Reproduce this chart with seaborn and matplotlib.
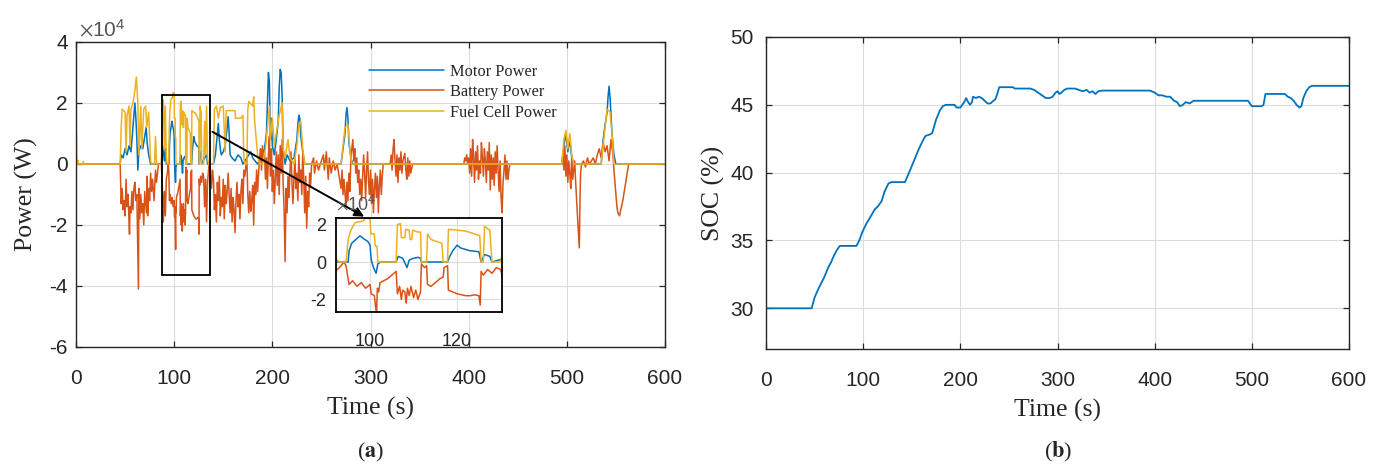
import numpy as np
import pandas as pd
import matplotlib
matplotlib.use("Agg")
import matplotlib.pyplot as plt
import seaborn as sns
from matplotlib.patches import Rectangle
from matplotlib.ticker import FuncFormatter

# ---------------- data (time s, power in units of 1e4 W) ----------------
series_names = ["Motor Power", "Battery Power", "Fuel Cell Power"]
series_colors = ["#0072BD", "#D95319", "#EDB120"]

motor_pts = [
    (0, 0), (45, 0), (46, 0.3), (48, 0.2), (50, 0.5), (52, 0.3), (54, 0.6), (56, 0.4), (58, 1.2),
    (60, 2.0), (61, 1.5), (62, 0.8), (63, -0.2), (64, 0.4), (66, 0.6), (68, 0.5), (70, 0.9),
    (71.5, 1.2), (72.5, 0.7), (74, 0.3), (76, 0), (87, 0), (88, 0.6), (89, 0.4), (90, 0.1),
    (91, 0.5), (92, 0), (95, 0), (95.2, 0.6), (95.8, 1.0), (96.5, 1.15), (97.7, 1.4), (98.5, 1.25),
    (99.5, 1.1), (100, 0.9), (100.3, 0.1), (100.8, -0.3), (101.4, -0.6), (101.8, -0.1), (102.5, 0),
    (106, 0), (106.5, 0.3), (107.5, 0.2), (108.5, -0.3), (109, 0.1), (110, 0.2), (111, 0.25),
    (111.6, 0.2), (111.8, 0), (117.8, 0), (118.3, 0.3), (119, 0.6), (120, 0.9), (120.8, 0.75),
    (121.5, 0.7), (123, 0.6), (125, 0.55), (125.5, 0), (126.3, 0.4), (127.5, 0.3), (128, 0),
    (131, 0.2), (133, 0.3), (134, 0), (140, 0), (142, 0.3), (144, 1.0), (145, 1.33), (146, 0.8),
    (147, 0.5), (148, 0.3), (150, 0.4), (152, 0.6), (154, 1.2), (155, 1.55), (156, 1.0), (157, 0.3),
    (159, 0.2), (162, 0.1), (165, 0.3), (168, 0.2), (170, 0), (176, 0.3), (178, 0.4), (180, 0.2),
    (185, 0), (190, 0.3), (192, 0.5), (194, 1.0), (195, 2.0), (196, 3.0), (197, 2.7), (198, 0.8),
    (199, 1.5), (200, 0.6), (202, 0.3), (204, 0.8), (206, 1.4), (207, 2.5), (208, 3.1), (209, 3.0),
    (210, 2.2), (211, 0.5), (213, 0), (215, 0.3), (218, 0.1), (222, 0.2), (225, 0.8), (226, 1.3),
    (227, 1.6), (228, 1.5), (229, 0.9), (231, 0.4), (233, 0), (270, 0), (272, 0.5), (274, 1.0),
    (275, 1.6), (276, 1.85), (277, 1.5), (278, 0.7), (280, 0.2), (282, 0), (495, 0), (497, 0.6),
    (499, 1.0), (501, 0.4), (503, 0.8), (505, 0.2), (507, 0), (535, 0), (537, 0.8), (539, 1.3),
    (541, 1.7), (542, 2.2), (543, 2.55), (544, 2.2), (545, 1.6), (546, 1.0), (548, 0.3), (550, 0),
    (600, 0),
]

battery_pts = [
    (0, -2.0), (0.3, 1.0), (0.6, 0), (45, 0), (46, -1.3), (47, -0.8), (48, -1.5), (49, -1.2),
    (50, -1.7), (51, -0.5), (52, -1.4), (53, -1.0), (54.5, -2.3), (55, -1.4), (56, -1.6), (57, -0.9),
    (58, -1.5), (59, -0.8), (60, -0.6), (61, -1.2), (62, -1.0), (63.6, -4.1), (64, -0.8), (65, -1.8),
    (66, -1.0), (67, -1.6), (68, -1.3), (69, -2.0), (70, -0.9), (71.8, -1.6), (72.5, -0.4),
    (73, -1.7), (74, -0.8), (75, -1.2), (76, -0.3), (77, -0.9), (78, -0.5), (79.5, -1.2), (81, -0.2),
    (82, -0.6), (84, 0), (87, 0), (88, -0.8), (89, -1.9), (90, -0.9), (91, -1.7), (92, -0.5),
    (93, -0.3), (94, 0), (94.5, -0.2), (95.2, -1.2), (96, -1.0), (97, -1.3), (98, -1.1), (99, -1.4),
    (100, -1.2), (100.3, -1.7), (101, -1.8), (101.5, -2.8), (101.7, -1.4), (102, -1.6), (102.3, -1.1),
    (104, -0.9), (105, -0.7), (106, -0.5), (106.3, -1.7), (106.8, -1.3), (107.2, -2.0), (107.5, -1.5),
    (108, -1.6), (108.3, -2.2), (108.6, -1.4), (109, -1.8), (109.4, -1.3), (110, -1.9), (110.5, -1.5),
    (111, -2.0), (111.6, -1.6), (111.8, -0.1), (112.5, -0.3), (113, -0.2), (113.2, -1.2), (114, -1.3),
    (115, -1.1), (116, -0.9), (116.8, -0.8), (117, -0.3), (117.8, -0.2), (118, -1.5), (119, -1.6),
    (120, -1.7), (121, -1.75), (122, -1.8), (123, -1.8), (124, -1.75), (125, -1.8), (125.3, -2.3),
    (125.5, -0.5), (126, -0.7), (127, -0.4), (128, -0.6), (129, -0.3), (130, -0.4), (131, -1.4),
    (132, -0.5), (133, -1.9), (134, -0.6), (135, -0.2), (136, 0.1), (137, -0.3), (138, -0.8),
    (139, -0.2), (140, -0.5), (141, -1.5), (142, -1.0), (143, -1.9), (144, -0.6), (145, -1.2),
    (146, -0.4), (147, -1.7), (148, -1.1), (149, -1.4), (150, -0.5), (151, -1.8), (152, -0.7),
    (153, -1.3), (154, -0.9), (155, -0.3), (156, -1.0), (157, -1.6), (158, -0.8), (159, -1.9),
    (160, -1.1), (161, -1.5), (162, -2.25), (163, -1.2), (164, -0.6), (165, -1.4), (166, -1.0),
    (167, -1.8), (168, -0.9), (169, -0.5), (170, -1.3), (171, -0.2), (172, -0.4), (173, -0.1),
    (174, 0.2), (175, -1.0), (176, -1.6), (177, -0.9), (178, -1.55), (179, -1.2), (180, -0.7),
    (181, -2.0), (182, -0.6), (183, -1.0), (184, -0.2), (185, -0.9), (186, -0.3), (187, 0.2),
    (188, 0.5), (189, -0.2), (190, 0.6), (191, 0.1), (192, 0.4), (193, -0.5), (194, 0.2), (195, -0.8),
    (196, 0.3), (197, 0.9), (198, -0.4), (199, 0.5), (200, -0.9), (201, -0.2), (202, -1.3),
    (203, -0.5), (204, 0.4), (205, -0.7), (206, 0.3), (207, -1.0), (208, 0.6), (209, -0.3), (210, 0.8),
    (211, -0.6), (212, -1.5), (213, -3.2), (214, -0.8), (215, -1.6), (216, -0.4), (217, -1.1),
    (218, -0.2), (219, 0.4), (220, -0.6), (221, -1.3), (222, -0.5), (223, 0.2), (224, -0.8),
    (225, -0.3), (226, -1.2), (227, 0.3), (228, -0.6), (229, -0.2), (230, -1.0), (231, 0.4),
    (232, -0.5), (233, -1.6), (234, -0.4), (235, -2.1), (236, -0.9), (237, -1.4), (238, -0.3),
    (239, -0.7), (240, 0), (242, 0.2), (243, -0.3), (245, 0.1), (247, -0.2), (249, 0), (252, 0.3),
    (253, -0.2), (255, 0.4), (256, -0.1), (257, -0.5), (258, 0.2), (260, -0.3), (262, 0.1),
    (264, -0.2), (266, 0), (268, -0.4), (270, -0.8), (271, -0.2), (272, -1.0), (273, -0.5),
    (275, -1.4), (276, -0.6), (277, -1.2), (278, -0.3), (279, -0.9), (280, 0.2), (281, 0.5),
    (282, 0.8), (283, 0.1), (284, 0.5), (285, -0.3), (286, 0.2), (287, -0.6), (288, -0.2),
    (289, -1.0), (290, -0.5), (291, -1.2), (292, -0.4), (293, 0.3), (294, -0.3), (295, -1.1),
    (296, -0.2), (297, 0.4), (298, -0.6), (299, -1.0), (300, -0.2), (301, -1.3), (302, -0.5),
    (303, -1.6), (304, -0.8), (305, -0.3), (306, -1.1), (307, -0.4), (308, -1.6), (309, -0.7),
    (310, -0.2), (311, -1.0), (312, -0.4), (313, 0), (320, 0), (321, 0.3), (322, -0.2), (323, 0.5),
    (324, 0.8), (325, 0.1), (326, -0.4), (327, 0.3), (328, -0.6), (329, 0.2), (330, -0.2), (331, 0.4),
    (332, -0.3), (333, 0.1), (335, 0.35), (336, -0.2), (337, -0.5), (338, 0.2), (339, -0.4),
    (340, 0.1), (341, -0.3), (343, 0), (395, 0), (396, 0.2), (397, 0.1), (398, 0.3), (399, 0),
    (400, 0.2), (401, -0.3), (402, 0.5), (403, -0.4), (404, 0.8), (405, 0.2), (406, -0.6), (407, 0.4),
    (408, -0.2), (409, 0.6), (410, -0.5), (411, 0.1), (412, -0.3), (413, 0.7), (414, 0.2),
    (415, -0.4), (416, 0.5), (417, 0.1), (418, -0.6), (419, 0.4), (420, -0.2), (421, 0.7),
    (422, -0.85), (423, 0.3), (424, -0.5), (425, 0.2), (426, -0.7), (427, 0.4), (428, -0.3),
    (429, 0.6), (430, -0.2), (431, -0.9), (432, 0.1), (433, -1.1), (434, -1.6), (435, -0.6),
    (436, -0.2), (437, 0.3), (438, -0.5), (439, 0.1), (440, -0.5), (441, -0.2), (442, 0), (495, 0),
    (496, 0.4), (497, -0.2), (498, 0.6), (499, -0.4), (500, 0.3), (501, -0.6), (502, 0.1),
    (503, -0.3), (504, -0.8), (505, 0.2), (506, -0.5), (507, -0.2), (508, 0.1), (509, -0.6),
    (510, -1.2), (511, -1.8), (512.7, -2.75), (513.5, -1.0), (514, -0.3), (515, 0), (517, 0.1),
    (519, -0.1), (521, 0.2), (523, 0), (525, 0.1), (527, 0.2), (529, 0), (531, 0.3), (533, 0.5),
    (535, 0.2), (537, 0.7), (539, 0.4), (541, 0.6), (543, 0.1), (545, 0.8), (547, 0.3), (548, -0.2),
    (549, -0.6), (550, -1.0), (551, -1.4), (552, -1.6), (553.6, -1.7), (555, -1.5), (557, -1.2),
    (559, -0.8), (561, -0.4), (563, 0), (600, 0),
]

fuelcell_pts = [
    (0, 0), (1.5, 0), (2, 0.12), (2.5, 0), (7, 0), (7.5, 0.08), (8, 0), (45, 0), (46, 1.2),
    (47, 1.8), (50, 1.7), (51, 0.4), (52, 1.6), (54, 1.9), (55, 0.6), (56, 1.8), (58, 2.0),
    (60, 2.4), (61.5, 2.85), (63, 2.0), (64, 0.3), (66, 1.9), (67, 0.5), (69, 1.8), (71, 1.9),
    (72, 1.2), (74, 1.7), (76, 0.1), (77, 0), (80, 0), (81, 0.9), (82, 0), (87, 0), (88, 1.6),
    (89, 2.1), (90, 0.5), (91, 1.9), (92, 0.2), (93, 0), (94.5, 0), (95, 1.2), (95.6, 1.7),
    (96.6, 2.1), (98.5, 2.2), (99, 2.35), (100, 2.3), (100.2, 1.5), (101, 1.5), (101.2, 0.85),
    (101.6, 0.85), (101.8, 0), (106, 0), (106.3, 2.0), (107, 2.05), (107.2, 1.3), (108, 1.3),
    (108.2, 1.75), (109, 1.7), (109.2, 1.2), (109.6, 1.2), (109.8, 1.7), (111, 1.6), (111.6, 1.6),
    (111.8, 0), (113, 0), (113.2, 1.5), (114, 1.2), (116.5, 1.0), (116.8, 0), (117.8, 0),
    (118, 1.75), (120, 1.7), (122, 1.65), (124, 1.5), (125.2, 1.4), (125.5, 0), (126, 0),
    (126.3, 1.9), (127.5, 1.7), (128, 0), (130, 0), (131, 1.4), (132, 0.3), (133, 1.9), (134, 0.2),
    (135, 0), (140, 0), (141, 1.8), (143, 1.9), (145, 1.5), (147, 1.85), (150, 1.9), (152, 0.4),
    (153, 1.75), (162, 1.75), (162.5, 1.5), (168, 1.5), (170, 1.6), (171, 0.2), (172, 0), (174, 0),
    (175, 1.8), (176, 2.05), (180, 1.9), (181, 2.2), (182, 1.4), (185, 0.3), (187, 0), (190, 0),
    (193, 0.5), (195, 1.2), (197, 1.9), (198, 0.8), (200, 1.5), (202, 0.6), (204, 1.0), (207, 1.6),
    (210, 2.0), (211, 0.5), (213, 0.2), (216, 0.8), (218, 0.2), (222, 0), (225, 0.6), (227, 1.3),
    (229, 1.4), (231, 0.5), (233, 0), (270, 0), (272, 0.6), (274, 1.2), (277, 1.3), (279, 0.5),
    (281, 0), (495, 0), (497, 0.8), (499, 1.1), (501, 0.5), (503, 1.0), (505, 0.3), (507, 0),
    (535, 0), (537, 0.6), (539, 1.2), (541, 1.8), (544, 1.7), (546, 1.0), (548, 0), (600, 0),
]

soc_pts = [
    (0, 30.0), (47, 30.0), (50, 30.8), (55, 31.6), (60, 32.3), (64, 33.0), (67, 33.4), (70, 33.9),
    (73, 34.3), (76, 34.6), (93, 34.6), (96, 35.0), (99, 35.6), (103, 36.2), (108, 36.8), (112, 37.3),
    (115, 37.5), (119, 37.9), (122, 38.6), (126, 39.2), (129, 39.3), (143, 39.3), (146, 39.8),
    (149, 40.3), (153, 41.0), (157, 41.7), (161, 42.3), (164, 42.7), (168, 42.8), (171, 42.9),
    (175, 43.9), (179, 44.6), (182, 44.9), (185, 45.0), (194, 45.0), (196, 44.8), (200, 44.8),
    (202, 45.0), (204, 45.2), (206, 45.5), (208, 45.2), (210, 45.0), (212, 45.2), (213, 45.6),
    (216, 45.5), (219, 45.6), (222, 45.5), (225, 45.3), (228, 45.1), (231, 45.1), (234, 45.3),
    (236, 45.4), (238, 45.8), (240, 46.3), (254, 46.3), (256, 46.2), (272, 46.2), (276, 46.1),
    (280, 45.9), (284, 45.7), (288, 45.5), (292, 45.5), (295, 45.6), (298, 45.9), (300, 46.0),
    (302, 45.8), (304, 45.9), (307, 46.1), (310, 46.2), (318, 46.2), (322, 46.1), (326, 46.0),
    (330, 46.1), (333, 45.9), (336, 46.0), (339, 45.8), (342, 46.0), (346, 46.05), (395, 46.05),
    (400, 45.9), (404, 45.7), (408, 45.7), (412, 45.6), (416, 45.6), (420, 45.3), (423, 45.2),
    (426, 44.9), (429, 45.0), (432, 45.2), (436, 45.1), (440, 45.3), (496, 45.3), (498, 45.1),
    (500, 44.9), (510, 44.9), (512, 45.0), (514, 45.8), (534, 45.8), (537, 45.6), (540, 45.5),
    (543, 45.3), (546, 45.0), (549, 44.8), (551, 44.9), (553, 45.5), (556, 46.0), (559, 46.3),
    (562, 46.4), (600, 46.4),
]

x_ticks = [0, 100, 200, 300, 400, 500, 600]
power_ticks = [-6e4, -4e4, -2e4, 0, 2e4, 4e4]
soc_ticks = [30, 35, 40, 45, 50]
inset_xticks = [100, 120]
inset_yticks = [-2e4, 0, 2e4]

# ---------------- build tables ----------------
frames = []
for name, pts in zip(series_names, [motor_pts, battery_pts, fuelcell_pts]):
    t, v = zip(*pts)
    frames.append(pd.DataFrame({"Time": t, "Power": np.asarray(v) * 1e4, "Series": name}))
power_df = pd.concat(frames, ignore_index=True)
st, sv = zip(*soc_pts)
soc_df = pd.DataFrame({"Time": st, "SOC": sv})
palette = dict(zip(series_names, series_colors))

# ---------------- style ----------------
sns.set_theme(style="ticks")
plt.rcParams.update({
    "font.family": ["Liberation Sans", "DejaVu Sans"],
    "axes.unicode_minus": False,
    "mathtext.fontset": "stix",
    "axes.edgecolor": "#262626",
    "axes.linewidth": 1.0,
    "xtick.color": "#262626",
    "ytick.color": "#262626",
    "text.color": "#262626",
    "axes.labelcolor": "#262626",
})
SERIF = ["Liberation Serif", "DejaVu Serif"]
W, H = 1385, 467

fig = plt.figure(figsize=(W / 100, H / 100), dpi=100)
fig.patch.set_facecolor("white")


def box(l, t, r, b):
    return [l / W, 1 - b / H, (r - l) / W, (b - t) / H]


ax1 = fig.add_axes(box(76, 42, 665, 347))
ax2 = fig.add_axes(box(766, 37, 1349, 349))
ax3 = fig.add_axes(box(336, 218, 502, 312))

e4_fmt = FuncFormatter(lambda v, p: f"{v / 1e4:g}")


def style_axes(ax, labelsize, xpad, ypad):
    ax.set_axisbelow(True)
    ax.grid(True, color="#dcdcdc", lw=0.8)
    ax.tick_params(direction="in", length=4, width=0.9, top=True, right=True,
                   labelsize=labelsize, colors="#262626")
    ax.tick_params(axis="x", pad=xpad)
    ax.tick_params(axis="y", pad=ypad)
    for s in ax.spines.values():
        s.set_visible(True)
        s.set_color("#262626")


# ---- left panel ----
sns.lineplot(data=power_df, x="Time", y="Power", hue="Series", hue_order=series_names,
             palette=palette, estimator=None, sort=False, lw=1.1, ax=ax1)
ax1.set_xlim(0, 600)
ax1.set_ylim(-6e4, 4e4)
ax1.set_xticks(x_ticks)
ax1.set_yticks(power_ticks)
ax1.yaxis.set_major_formatter(e4_fmt)
style_axes(ax1, 15, 16, 6)
ax1.set_xlabel("Time (s)", family=SERIF, fontsize=18.5, labelpad=6.5)
ax1.set_ylabel("Power (W)", family=SERIF, fontsize=18.5, labelpad=8)
fig.text(79 / W, 1 - 29 / H, r"$\times\mathregular{10^{4}}$", ha="left", va="center",
         fontsize=15, color="#555555")

sns.move_legend(ax1, "upper left", bbox_to_anchor=(362 / W, 1 - 57 / H),
                bbox_transform=fig.transFigure, frameon=False, title=None,
                prop={"family": SERIF, "size": 11.8}, handlelength=4.6,
                handletextpad=0.35, labelspacing=0.28, borderaxespad=0)

ax1.add_patch(Rectangle((87.3, -3.63e4), 49.2, 5.88e4, fill=False, ec="black", lw=1.3, zorder=6))
ax1.annotate("", xy=(296, -1.77e4), xytext=(136.5, 1.1e4),
             arrowprops=dict(arrowstyle="-|>", color="black", lw=1.4, mutation_scale=14),
             zorder=7)

# ---- inset ----
sns.lineplot(data=power_df, x="Time", y="Power", hue="Series", hue_order=series_names,
             palette=palette, estimator=None, sort=False, lw=1.1, ax=ax3, legend=False)
ax3.set_xlim(92.2, 130.3)
ax3.set_ylim(-2.67e4, 2.35e4)
ax3.set_xticks(inset_xticks)
ax3.set_yticks(inset_yticks)
ax3.yaxis.set_major_formatter(e4_fmt)
style_axes(ax3, 13, 15, 7)
ax3.tick_params(length=0)
ax3.set_xlabel("")
ax3.set_ylabel("")
for s in ax3.spines.values():
    s.set_color("black")
    s.set_linewidth(1.3)
fig.text(336 / W, 1 - 204 / H, r"$\times\mathregular{10^{4}}$", ha="left", va="center",
         fontsize=13, color="#555555", zorder=1)

# ---- right panel ----
sns.lineplot(data=soc_df, x="Time", y="SOC", color="#0072BD", lw=1.3, estimator=None,
             sort=False, ax=ax2)
ax2.set_xlim(0, 600)
ax2.set_ylim(27, 50)
ax2.set_xticks(x_ticks)
ax2.set_yticks(soc_ticks)
style_axes(ax2, 15, 16, 9)
ax2.set_xlabel("Time (s)", family=SERIF, fontsize=18.5, labelpad=6.5)
ax2.set_ylabel("SOC (%)", family=SERIF, fontsize=18.5, labelpad=4)

# ---- panel captions ----
fig.text(371 / W, 1 - 452 / H, r"($\mathbf{a}$)", ha="center", va="center",
         fontsize=16, family=SERIF)
fig.text(1058 / W, 1 - 452 / H, r"($\mathbf{b}$)", ha="center", va="center",
         fontsize=16, family=SERIF)

fig.savefig("out.png", dpi=100, facecolor="white")
